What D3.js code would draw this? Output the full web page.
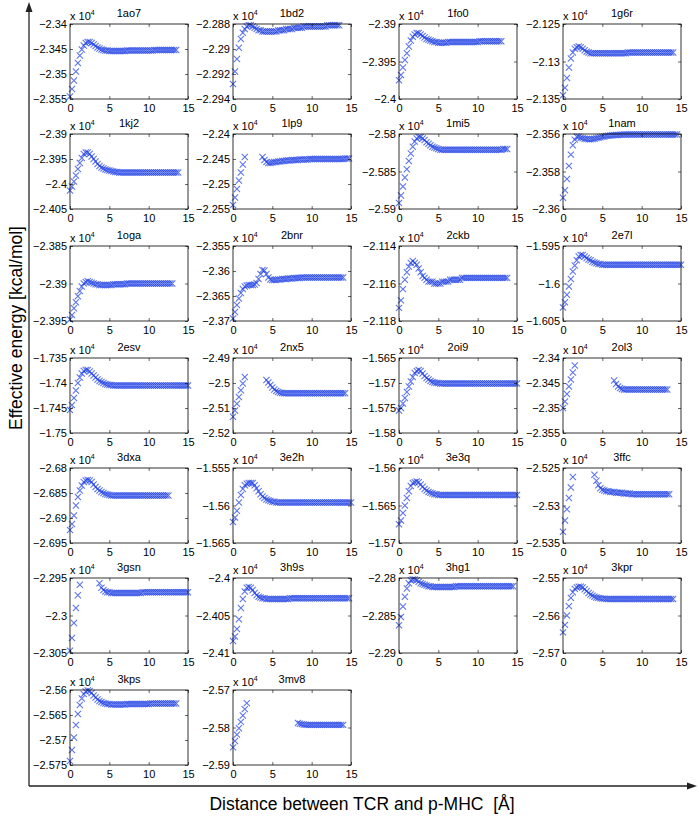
<!DOCTYPE html>
<html>
<head>
<meta charset="utf-8">
<script src="https://cdn.jsdelivr.net/npm/d3@7"></script>
<style>
body { margin: 0; background: #fff; }
text { font-family: "Liberation Sans", Arial, sans-serif; }
</style>
</head>
<body>
<script>
// names of the complexes, in reading order (4 per row)
var names = ["1ao7","1bd2","1fo0","1g6r","1kj2","1lp9","1mi5","1nam","1oga","2bnr","2ckb","2e7l",
             "2esv","2nx5","2oi9","2ol3","3dxa","3e2h","3e3q","3ffc","3gsn","3h9s","3hg1","3kpr",
             "3kps","3mv8"];

// y tick values of each panel (x 10^4 kcal/mol), first and last are the axis limits
var yTicks = [
  [-2.355,-2.35,-2.345,-2.34], [-2.294,-2.292,-2.29,-2.288], [-2.4,-2.395,-2.39], [-2.135,-2.13,-2.125],
  [-2.405,-2.4,-2.395,-2.39], [-2.255,-2.25,-2.245,-2.24], [-2.59,-2.585,-2.58], [-2.36,-2.358,-2.356],
  [-2.395,-2.39,-2.385], [-2.37,-2.365,-2.36,-2.355], [-2.118,-2.116,-2.114], [-1.605,-1.6,-1.595],
  [-1.75,-1.745,-1.74,-1.735], [-2.52,-2.51,-2.5,-2.49], [-1.58,-1.575,-1.57,-1.565], [-2.355,-2.35,-2.345,-2.34],
  [-2.695,-2.69,-2.685,-2.68], [-1.565,-1.56,-1.555], [-1.57,-1.565,-1.56], [-2.535,-2.53,-2.525],
  [-2.305,-2.3,-2.295], [-2.41,-2.405,-2.4], [-2.29,-2.285,-2.28], [-2.57,-2.56,-2.55],
  [-2.575,-2.57,-2.565,-2.56], [-2.59,-2.58,-2.57]
];
var xTicks = [0, 5, 10, 15];

// distance step between samples [A]; every series starts at 0
var step = 0.25;

// effective energy (x 10^4 kcal/mol) per sample, null where no point was drawn
var e_1ao7 = [-2.3545,-2.3530,-2.3513,-2.3495,-2.3478,-2.3463,-2.3451,-2.3443,-2.3438,-2.3436,
  -2.3436,-2.3438,-2.3441,-2.3444,-2.3447,-2.3449,-2.3451,-2.3452,-2.3453,-2.3453,
  -2.3454,-2.3454,-2.3454,-2.3454,-2.3454,-2.3454,-2.3454,-2.3454,-2.3454,-2.3453,
  -2.3453,-2.3453,-2.3453,-2.3453,-2.3453,-2.3453,-2.3453,-2.3453,-2.3453,-2.3453,
  -2.3453,-2.3453,-2.3453,-2.3452,-2.3452,-2.3452,-2.3452,-2.3452,-2.3452,-2.3452,
  -2.3452,-2.3452,-2.3452,-2.3452,-2.3452];
var e_1bd2 = [-2.2928,-2.2918,-2.2908,-2.2899,-2.2892,-2.2887,-2.2884,-2.2882,-2.2881,-2.2881,
  -2.2882,-2.2883,-2.2884,-2.2885,-2.2885,-2.2886,-2.2886,-2.2886,-2.2886,-2.2886,
  -2.2886,-2.2886,-2.2886,-2.2885,-2.2885,-2.2885,-2.2885,-2.2884,-2.2884,-2.2884,
  -2.2884,-2.2883,-2.2883,-2.2883,-2.2883,-2.2883,-2.2882,-2.2882,-2.2882,-2.2882,
  -2.2882,-2.2882,-2.2882,-2.2882,-2.2882,-2.2882,-2.2882,-2.2882,-2.2881,-2.2881,
  -2.2881,-2.2881,-2.2881,-2.2881,-2.2881];
var e_1fo0 = [-2.3975,-2.3968,-2.3958,-2.3948,-2.3939,-2.3930,-2.3922,-2.3917,-2.3914,-2.3912,
  -2.3912,-2.3914,-2.3916,-2.3918,-2.3920,-2.3921,-2.3922,-2.3923,-2.3924,-2.3924,
  -2.3925,-2.3925,-2.3925,-2.3925,-2.3925,-2.3924,-2.3924,-2.3924,-2.3924,-2.3924,
  -2.3924,-2.3924,-2.3924,-2.3924,-2.3924,-2.3924,-2.3924,-2.3924,-2.3924,-2.3924,
  -2.3924,-2.3923,-2.3923,-2.3923,-2.3923,-2.3923,-2.3923,-2.3923,-2.3923,-2.3923,
  -2.3923,-2.3923,-2.3923];
var e_1g6r = [-2.1345,-2.1335,-2.1322,-2.1308,-2.1296,-2.1288,-2.1283,-2.1281,-2.1280,-2.1281,
  -2.1283,-2.1285,-2.1287,-2.1288,-2.1289,-2.1289,-2.1289,-2.1289,-2.1289,-2.1289,
  -2.1289,-2.1289,-2.1289,-2.1289,-2.1289,-2.1289,-2.1289,-2.1289,-2.1289,-2.1289,
  -2.1289,-2.1289,-2.1289,-2.1288,-2.1288,-2.1288,-2.1288,-2.1288,-2.1288,-2.1288,
  -2.1288,-2.1288,-2.1288,-2.1288,-2.1288,-2.1288,-2.1288,-2.1288,-2.1288,-2.1288,
  -2.1288,-2.1288,-2.1288,-2.1288,-2.1288,-2.1288,-2.1288];
var e_1kj2 = [-2.4013,-2.4005,-2.3995,-2.3983,-2.3970,-2.3958,-2.3948,-2.3940,-2.3937,-2.3937,
  -2.3940,-2.3945,-2.3950,-2.3955,-2.3960,-2.3964,-2.3967,-2.3969,-2.3971,-2.3972,
  -2.3973,-2.3974,-2.3975,-2.3976,-2.3976,-2.3977,-2.3977,-2.3977,-2.3977,-2.3977,
  -2.3977,-2.3977,-2.3977,-2.3977,-2.3977,-2.3977,-2.3977,-2.3977,-2.3977,-2.3977,
  -2.3977,-2.3977,-2.3977,-2.3977,-2.3977,-2.3977,-2.3977,-2.3977,-2.3977,-2.3977,
  -2.3977,-2.3977,-2.3977,-2.3977,-2.3977,-2.3977];
var e_1lp9 = [-2.2542,-2.2527,-2.2510,-2.2493,-2.2477,-2.2461,-2.2446,null,null,null,
  null,null,null,null,null,-2.2446,-2.2452,-2.2456,-2.2458,-2.2458,
  -2.2457,-2.2456,-2.2456,-2.2455,-2.2455,-2.2454,-2.2454,-2.2453,-2.2453,-2.2453,
  -2.2452,-2.2452,-2.2452,-2.2452,-2.2451,-2.2451,-2.2451,-2.2451,-2.2451,-2.2450,
  -2.2450,-2.2450,-2.2450,-2.2450,-2.2450,-2.2450,-2.2450,-2.2450,-2.2450,-2.2450,
  -2.2450,-2.2450,-2.2450,-2.2450,-2.2450,-2.2450,-2.2450,-2.2449,-2.2449,-2.2449];
var e_1mi5 = [-2.5892,-2.5882,-2.5870,-2.5858,-2.5847,-2.5836,-2.5826,-2.5817,-2.5810,-2.5806,
  -2.5804,-2.5804,-2.5806,-2.5808,-2.5811,-2.5813,-2.5815,-2.5817,-2.5818,-2.5819,
  -2.5820,-2.5821,-2.5821,-2.5821,-2.5821,-2.5821,-2.5821,-2.5821,-2.5821,-2.5821,
  -2.5821,-2.5821,-2.5821,-2.5821,-2.5821,-2.5821,-2.5821,-2.5821,-2.5821,-2.5821,
  -2.5821,-2.5821,-2.5821,-2.5821,-2.5821,-2.5821,-2.5821,-2.5821,-2.5821,-2.5821,
  -2.5821,-2.5821,-2.5821,-2.5820,-2.5820,-2.5820];
var e_1nam = [-2.3594,-2.3590,-2.3584,-2.3577,-2.3571,-2.3566,-2.3563,-2.35615,-2.35615,-2.3562,
  -2.35622,-2.35625,-2.35627,-2.35628,-2.35628,-2.35627,-2.35625,-2.35622,-2.3562,-2.35617,
  -2.35615,-2.35613,-2.3561,-2.35609,-2.35608,-2.35607,-2.35606,-2.35605,-2.35605,-2.35604,
  -2.35604,-2.35603,-2.35603,-2.35603,-2.35603,-2.35603,-2.35603,-2.35603,-2.35603,-2.35603,
  -2.35603,-2.35603,-2.35603,-2.35603,-2.35603,-2.35603,-2.35603,-2.35603,-2.35603,-2.35603,
  -2.35603,-2.35603,-2.35603,-2.35603,-2.35603,-2.35603,-2.35603,-2.35603,-2.35603];
var e_1oga = [-2.3948,-2.3942,-2.3933,-2.3925,-2.3917,-2.3910,-2.3904,-2.3900,-2.3898,-2.3897,
  -2.3898,-2.3899,-2.3900,-2.3901,-2.3901,-2.3902,-2.3902,-2.3902,-2.3902,-2.3902,
  -2.3902,-2.3902,-2.3901,-2.3901,-2.3901,-2.3901,-2.3901,-2.3901,-2.3901,-2.3900,
  -2.3900,-2.3900,-2.3900,-2.3900,-2.3900,-2.3900,-2.3900,-2.3900,-2.3900,-2.3900,
  -2.3900,-2.3900,-2.3900,-2.3900,-2.3900,-2.3900,-2.3900,-2.3900,-2.3900,-2.3900,
  -2.3900,-2.3900,-2.3900];
var e_2bnr = [-2.3695,-2.3682,-2.3668,-2.3655,-2.3644,-2.3636,-2.3631,-2.3629,-2.3628,-2.3628,
  -2.3628,-2.3627,-2.3624,-2.3616,-2.3606,-2.3598,-2.3599,-2.3606,-2.3613,-2.3617,
  -2.3618,-2.3618,-2.3618,-2.3617,-2.3617,-2.3616,-2.3616,-2.3616,-2.3615,-2.3615,
  -2.3615,-2.3614,-2.3614,-2.3614,-2.3614,-2.3613,-2.3613,-2.3613,-2.3613,-2.3613,
  -2.3613,-2.3613,-2.3613,-2.3613,-2.3613,-2.3613,-2.3613,-2.3613,-2.3613,-2.3613,
  -2.3613,-2.3613,-2.3613,-2.3613,-2.3613,-2.3613,-2.3613];
var e_2ckb = [-2.1173,-2.1169,-2.1163,-2.1158,-2.1154,-2.1151,-2.1149,-2.1148,-2.1149,-2.1150,
  -2.1152,-2.1154,-2.1156,-2.1157,-2.1158,-2.1159,-2.1159,-2.1159,-2.1160,-2.1160,
  -2.1160,-2.1160,-2.1159,-2.1159,-2.1159,-2.1159,-2.1158,-2.1158,-2.1158,-2.1158,
  -2.1158,-2.1158,-2.1157,-2.1157,-2.1157,-2.1157,-2.1157,-2.1157,-2.1157,-2.1157,
  -2.1157,-2.1157,-2.1157,-2.1157,-2.1157,-2.1157,-2.1157,-2.1157,-2.1157,-2.1157,
  -2.1157,-2.1157,-2.1157,-2.1157,-2.1157,-2.1157];
var e_2e7l = [-1.6032,-1.6025,-1.6015,-1.6004,-1.5994,-1.5984,-1.5976,-1.5969,-1.5964,-1.5962,
  -1.5962,-1.5964,-1.5966,-1.5968,-1.5969,-1.5971,-1.5972,-1.5973,-1.5974,-1.5974,
  -1.5975,-1.5975,-1.5975,-1.5975,-1.5975,-1.5975,-1.5975,-1.5975,-1.5975,-1.5975,
  -1.5975,-1.5975,-1.5975,-1.5975,-1.5975,-1.5975,-1.5975,-1.5975,-1.5975,-1.5975,
  -1.5975,-1.5975,-1.5975,-1.5975,-1.5975,-1.5975,-1.5975,-1.5975,-1.5975,-1.5975,
  -1.5975,-1.5975,-1.5975,-1.5975,-1.5975,-1.5975,-1.5975,-1.5975,-1.5975,-1.5975,
  -1.5975];
var e_2esv = [-1.7454,-1.7444,-1.7430,-1.7415,-1.7400,-1.7389,-1.7381,-1.7376,-1.7374,-1.7374,
  -1.7377,-1.7381,-1.7385,-1.7389,-1.7393,-1.7396,-1.7398,-1.7400,-1.7402,-1.7403,
  -1.7404,-1.7404,-1.7405,-1.7405,-1.7405,-1.7405,-1.7405,-1.7405,-1.7405,-1.7405,
  -1.7405,-1.7405,-1.7405,-1.7405,-1.7405,-1.7405,-1.7405,-1.7405,-1.7405,-1.7405,
  -1.7405,-1.7405,-1.7405,-1.7405,-1.7405,-1.7405,-1.7405,-1.7405,-1.7405,-1.7405,
  -1.7405,-1.7405,-1.7405,-1.7405,-1.7405,-1.7405,-1.7405,-1.7405,-1.7405,-1.7405,
  -1.7405];
var e_2nx5 = [-2.5135,-2.5110,-2.5083,-2.5056,-2.5029,-2.5002,-2.4976,null,null,null,
  null,null,null,null,null,null,null,-2.4988,-2.4998,-2.5008,
  -2.5018,-2.5026,-2.5032,-2.5036,-2.5039,-2.5040,-2.5041,-2.5041,-2.5041,-2.5041,
  -2.5041,-2.5041,-2.5041,-2.5041,-2.5041,-2.5041,-2.5041,-2.5041,-2.5041,-2.5041,
  -2.5041,-2.5041,-2.5041,-2.5041,-2.5041,-2.5041,-2.5041,-2.5041,-2.5041,-2.5041,
  -2.5041,-2.5041,-2.5041,-2.5041,-2.5041,-2.5041,-2.5041,-2.5041];
var e_2oi9 = [-1.5755,-1.5750,-1.5741,-1.5730,-1.5718,-1.5707,-1.5697,-1.5688,-1.5680,-1.5676,
  -1.5674,-1.5676,-1.5681,-1.5686,-1.5690,-1.5693,-1.5696,-1.5698,-1.5699,-1.5700,
  -1.5700,-1.5701,-1.5701,-1.5701,-1.5701,-1.5701,-1.5701,-1.5701,-1.5701,-1.5701,
  -1.5701,-1.5701,-1.5701,-1.5701,-1.5701,-1.5701,-1.5701,-1.5701,-1.5701,-1.5701,
  -1.5701,-1.5701,-1.5701,-1.5701,-1.5701,-1.5701,-1.5701,-1.5701,-1.5701,-1.5701,
  -1.5701,-1.5701,-1.5701,-1.5701,-1.5701,-1.5701,-1.5701,-1.5701,-1.5701,-1.5701,
  -1.5701];
var e_2ol3 = [-2.3500,-2.3487,-2.3472,-2.3457,-2.3443,-2.3429,-2.3415,null,null,null,
  null,null,null,null,null,null,null,null,null,null,
  null,null,null,null,null,null,-2.3445,-2.3452,-2.3457,-2.3460,
  -2.3462,-2.3463,-2.3463,-2.3463,-2.3463,-2.3463,-2.3463,-2.3463,-2.3463,-2.3463,
  -2.3463,-2.3463,-2.3463,-2.3463,-2.3463,-2.3463,-2.3463,-2.3463,-2.3463,-2.3463,
  -2.3463,-2.3463,-2.3463,-2.3463];
var e_3dxa = [-2.6924,-2.6912,-2.6895,-2.6875,-2.6858,-2.6845,-2.6835,-2.6828,-2.6825,-2.6824,
  -2.6825,-2.6828,-2.6833,-2.6838,-2.6842,-2.6845,-2.6848,-2.6850,-2.6852,-2.6853,
  -2.6854,-2.6855,-2.6855,-2.6855,-2.6855,-2.6855,-2.6855,-2.6855,-2.6855,-2.6855,
  -2.6855,-2.6855,-2.6855,-2.6855,-2.6855,-2.6855,-2.6855,-2.6855,-2.6855,-2.6855,
  -2.6855,-2.6855,-2.6855,-2.6855,-2.6855,-2.6855,-2.6855,-2.6855,-2.6855,-2.6855,
  -2.6855];
var e_3e2h = [-1.5622,-1.5616,-1.5607,-1.5596,-1.5586,-1.5578,-1.5573,-1.5571,-1.5570,-1.5570,
  -1.5570,-1.5573,-1.5577,-1.5581,-1.5585,-1.5588,-1.5590,-1.5592,-1.5593,-1.5594,
  -1.5595,-1.5595,-1.5596,-1.5596,-1.5596,-1.5596,-1.5596,-1.5596,-1.5596,-1.5596,
  -1.5596,-1.5596,-1.5596,-1.5596,-1.5596,-1.5596,-1.5596,-1.5596,-1.5596,-1.5596,
  -1.5596,-1.5596,-1.5596,-1.5596,-1.5596,-1.5596,-1.5596,-1.5596,-1.5596,-1.5596,
  -1.5596,-1.5596,-1.5596,-1.5596,-1.5596,-1.5596,-1.5596,-1.5596,-1.5596,-1.5596,
  -1.5596];
var e_3e3q = [-1.5675,-1.5670,-1.5660,-1.5650,-1.5640,-1.5631,-1.5624,-1.5620,-1.5619,-1.5618,
  -1.5619,-1.5622,-1.5625,-1.5628,-1.5630,-1.5632,-1.5633,-1.5634,-1.5635,-1.5635,
  -1.5636,-1.5636,-1.5636,-1.5636,-1.5636,-1.5636,-1.5636,-1.5636,-1.5636,-1.5636,
  -1.5636,-1.5636,-1.5636,-1.5636,-1.5636,-1.5636,-1.5636,-1.5636,-1.5636,-1.5636,
  -1.5636,-1.5636,-1.5636,-1.5636,-1.5636,-1.5636,-1.5636,-1.5636,-1.5636,-1.5636,
  -1.5636,-1.5636,-1.5636,-1.5636,-1.5636,-1.5636,-1.5636,-1.5636,-1.5636,-1.5636,
  -1.5636];
var e_3ffc = [-2.5335,-2.5320,-2.5305,-2.5290,-2.5276,-2.5262,null,null,null,null,
  null,null,null,null,null,null,-2.5259,-2.5267,-2.5273,-2.5277,
  -2.5279,-2.5280,-2.5281,-2.5281,-2.5282,-2.5282,-2.5282,-2.5283,-2.5283,-2.5283,
  -2.5283,-2.5284,-2.5284,-2.5284,-2.5284,-2.5285,-2.5285,-2.5285,-2.5285,-2.5285,
  -2.5285,-2.5285,-2.5285,-2.5285,-2.5285,-2.5285,-2.5285,-2.5285,-2.5285,-2.5285,
  -2.5285,-2.5285,-2.5285,-2.5285,-2.5285];
var e_3gsn = [-2.3047,-2.3030,-2.3010,-2.2990,-2.2973,-2.2959,null,null,null,null,
  null,null,null,null,null,-2.2957,-2.2963,-2.2966,-2.2968,-2.2969,
  -2.2969,-2.2970,-2.2970,-2.2970,-2.2970,-2.2970,-2.2970,-2.2970,-2.2970,-2.2970,
  -2.2970,-2.2970,-2.2970,-2.2970,-2.2970,-2.2970,-2.2970,-2.2969,-2.2969,-2.2969,
  -2.2969,-2.2969,-2.2969,-2.2969,-2.2969,-2.2969,-2.2969,-2.2969,-2.2969,-2.2969,
  -2.2969,-2.2969,-2.2969,-2.2969,-2.2969,-2.2969,-2.2969,-2.2969,-2.2969,-2.2969,
  -2.2969];
var e_3h9s = [-2.4084,-2.4078,-2.4068,-2.4055,-2.4040,-2.4028,-2.4018,-2.4013,-2.4012,-2.4013,
  -2.4016,-2.4020,-2.4023,-2.4025,-2.4026,-2.4027,-2.4027,-2.4028,-2.4028,-2.4028,
  -2.4028,-2.4028,-2.4028,-2.4028,-2.4028,-2.4028,-2.4028,-2.4028,-2.4028,-2.4027,
  -2.4027,-2.4027,-2.4027,-2.4027,-2.4027,-2.4027,-2.4027,-2.4027,-2.4027,-2.4027,
  -2.4027,-2.4027,-2.4027,-2.4027,-2.4027,-2.4027,-2.4027,-2.4027,-2.4027,-2.4027,
  -2.4027,-2.4027,-2.4027,-2.4027,-2.4027,-2.4027,-2.4027,-2.4027,-2.4027,-2.4027];
var e_3hg1 = [-2.2863,-2.2852,-2.2838,-2.2825,-2.2814,-2.2807,-2.2803,-2.2802,-2.2802,-2.2803,
  -2.2805,-2.2807,-2.2808,-2.2809,-2.2810,-2.2811,-2.2811,-2.2812,-2.2812,-2.2812,
  -2.2812,-2.2812,-2.2812,-2.2812,-2.2812,-2.2812,-2.2812,-2.2812,-2.2812,-2.2811,
  -2.2811,-2.2811,-2.2811,-2.2811,-2.2811,-2.2811,-2.2811,-2.2811,-2.2811,-2.2811,
  -2.2811,-2.2811,-2.2811,-2.2811,-2.2811,-2.2811,-2.2811,-2.2811,-2.2811,-2.2811,
  -2.2811,-2.2811,-2.2811,-2.2811,-2.2811,-2.2811,-2.2811,-2.2811,-2.2811];
var e_3kpr = [-2.5645,-2.5625,-2.5600,-2.5575,-2.5553,-2.5538,-2.5529,-2.5525,-2.5523,-2.5523,
  -2.5525,-2.5530,-2.5535,-2.5540,-2.5544,-2.5547,-2.5550,-2.5552,-2.5553,-2.5554,
  -2.5555,-2.5555,-2.5556,-2.5556,-2.5556,-2.5556,-2.5556,-2.5556,-2.5556,-2.5556,
  -2.5556,-2.5556,-2.5556,-2.5556,-2.5556,-2.5556,-2.5556,-2.5556,-2.5556,-2.5556,
  -2.5556,-2.5556,-2.5556,-2.5556,-2.5556,-2.5556,-2.5556,-2.5556,-2.5556,-2.5556,
  -2.5556,-2.5556,-2.5556,-2.5556,-2.5556,-2.5556,-2.5556];
var e_3kps = [-2.5742,-2.5720,-2.5695,-2.5670,-2.5648,-2.5630,-2.5617,-2.5608,-2.5603,-2.5601,
  -2.5602,-2.5606,-2.5611,-2.5615,-2.5619,-2.5622,-2.5624,-2.5626,-2.5627,-2.5628,
  -2.5628,-2.5629,-2.5629,-2.5629,-2.5629,-2.5629,-2.5629,-2.5629,-2.5629,-2.5628,
  -2.5628,-2.5628,-2.5628,-2.5628,-2.5628,-2.5628,-2.5628,-2.5628,-2.5628,-2.5628,
  -2.5628,-2.5627,-2.5627,-2.5627,-2.5627,-2.5627,-2.5627,-2.5627,-2.5627,-2.5627,
  -2.5627,-2.5627,-2.5627,-2.5627,-2.5627];
var e_3mv8 = [-2.5853,-2.5836,-2.5819,-2.5802,-2.5785,-2.5768,-2.5751,-2.5735,null,null,
  null,null,null,null,null,null,null,null,null,null,
  null,null,null,null,null,null,null,null,null,null,
  null,null,null,-2.5788,-2.5790,-2.5791,-2.5792,-2.5793,-2.5793,-2.5793,
  -2.5793,-2.5793,-2.5793,-2.5793,-2.5793,-2.5793,-2.5793,-2.5793,-2.5793,-2.5793,
  -2.5793,-2.5793,-2.5793,-2.5793,-2.5793,-2.5793,-2.5793];

var series = [e_1ao7,e_1bd2,e_1fo0,e_1g6r,e_1kj2,e_1lp9,e_1mi5,e_1nam,e_1oga,e_2bnr,e_2ckb,e_2e7l,
              e_2esv,e_2nx5,e_2oi9,e_2ol3,e_3dxa,e_3e2h,e_3e3q,e_3ffc,e_3gsn,e_3h9s,e_3hg1,e_3kpr,
              e_3kps,e_3mv8];

// layout of the grid
var colX = [70, 233, 399, 563];
var rowY = [24, 134, 246, 358, 468, 578, 690];
var pw = 118, ph = 75;
var ms = 3.1; // half size of the x marker

var svg = d3.select("body").append("svg")
    .attr("width", 699)
    .attr("height", 822);

// minus sign like matlab
function fmt(v) { return String(v).replace("-", "\u2212"); }

names.forEach(function(name, i) {
    var g = svg.append("g")
        .attr("transform", "translate(" + colX[i % 4] + "," + rowY[Math.floor(i / 4)] + ")");

    var x = d3.scaleLinear().domain([0, 15]).range([0, pw]);
    var y = d3.scaleLinear().domain(d3.extent(yTicks[i])).range([ph, 0]);

    // white box
    g.append("rect")
        .attr("width", pw).attr("height", ph)
        .attr("fill", "#fff");

    // points
    var pts = series[i].map(function(v, k) { return {x: k * step, y: v}; })
        .filter(function(d) { return d.y !== null; });

    g.append("g").selectAll("path").data(pts).enter()
        .append("path")
        .attr("d", function(d) {
            var cx = x(d.x), cy = y(d.y);
            return "M" + (cx - ms) + "," + (cy - ms) + "L" + (cx + ms) + "," + (cy + ms) +
                   "M" + (cx - ms) + "," + (cy + ms) + "L" + (cx + ms) + "," + (cy - ms);
        })
        .attr("fill", "none")
        .attr("stroke", "#1c3de4")
        .attr("stroke-opacity", 0.72)
        .attr("stroke-width", 1.05);

    // axes, ticks pointing inward on all four sides
    var left = g.append("g")
        .call(d3.axisLeft(y).tickValues(yTicks[i]).tickSize(-3).tickPadding(3).tickFormat(fmt));
    var right = g.append("g").attr("transform", "translate(" + pw + ",0)")
        .call(d3.axisRight(y).tickValues(yTicks[i]).tickSize(-3).tickFormat(""));
    var bottom = g.append("g").attr("transform", "translate(0," + ph + ")")
        .call(d3.axisBottom(x).tickValues(xTicks).tickSize(-3).tickPadding(5).tickFormat(d3.format("d")));
    var top = g.append("g")
        .call(d3.axisTop(x).tickValues(xTicks).tickSize(-3).tickFormat(""));

    [left, right, bottom, top].forEach(function(a) {
        a.select(".domain").remove();
        a.selectAll("text").attr("font-size", 11).attr("fill", "#000")
            .style("font-family", "'Liberation Sans', Arial, sans-serif");
        a.selectAll("line").attr("stroke", "#000").attr("stroke-width", 0.6);
    });
    bottom.selectAll("text").attr("dy", "0.71em");

    // frame
    g.append("rect")
        .attr("width", pw).attr("height", ph)
        .attr("fill", "none")
        .attr("stroke", "#000")
        .attr("stroke-width", 0.8);

    // exponent label
    var ex = g.append("text")
        .attr("x", 0).attr("y", -4)
        .attr("font-size", 11);
    ex.append("tspan").text("x 10");
    ex.append("tspan").attr("font-size", 7).attr("dy", -5).text("4");

    // title
    g.append("text")
        .attr("x", pw / 2).attr("y", -7.5)
        .attr("text-anchor", "middle")
        .attr("font-size", 11)
        .text(name);
});

// big axes with arrows
var axisY = 786, axisX = 29;
svg.append("line")
    .attr("x1", axisX).attr("y1", axisY).attr("x2", axisX).attr("y2", 9)
    .attr("stroke", "#222").attr("stroke-width", 1.3);
svg.append("path")
    .attr("d", "M" + axisX + ",2L" + (axisX - 3.5) + ",12L" + (axisX + 3.5) + ",12Z")
    .attr("fill", "#222");
svg.append("line")
    .attr("x1", axisX).attr("y1", axisY).attr("x2", 690).attr("y2", axisY)
    .attr("stroke", "#222").attr("stroke-width", 1.3);
svg.append("path")
    .attr("d", "M697," + axisY + "L687," + (axisY - 3.5) + "L687," + (axisY + 3.5) + "Z")
    .attr("fill", "#222");

svg.append("text")
    .attr("transform", "translate(22,328) rotate(-90)")
    .attr("text-anchor", "middle")
    .attr("font-size", 17.5)
    .text("Effective energy [kcal/mol]");

svg.append("text")
    .attr("x", 362).attr("y", 810)
    .attr("text-anchor", "middle")
    .attr("font-size", 17.5)
    .style("white-space", "pre")
    .text("Distance between TCR and p-MHC  [\u00c5]");
</script>
</body>
</html>
